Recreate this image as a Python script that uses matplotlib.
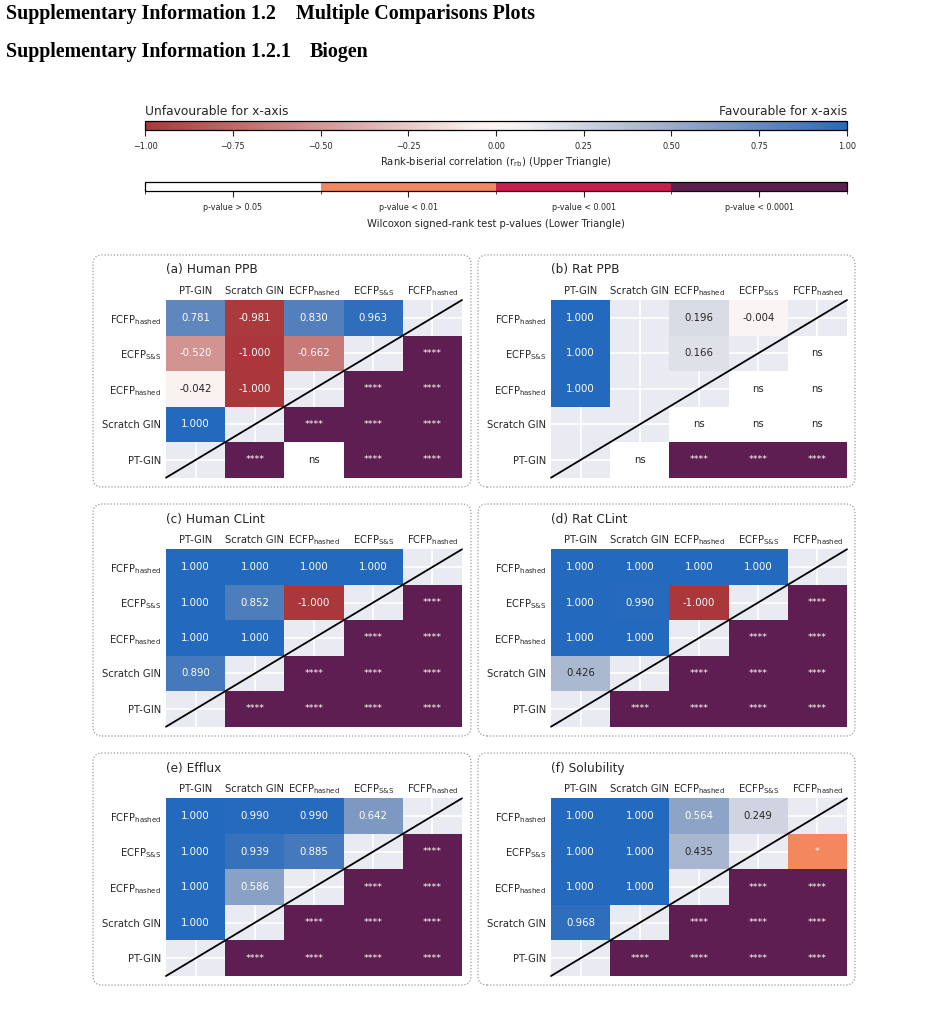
import numpy as np
import matplotlib
matplotlib.use("Agg")
import matplotlib.pyplot as plt
import seaborn as sns
from matplotlib.colors import ListedColormap, BoundaryNorm
from matplotlib.patches import FancyBboxPatch
import matplotlib as mpl

sns.set_style("darkgrid")
plt.rcParams['font.family'] = ['DejaVu Sans']

nan = np.nan
# ---------------- data ----------------
models = ["PT-GIN", "Scratch GIN", r"ECFP$_{\mathrm{hashed}}$",
          r"ECFP$_{\mathrm{S&S}}$", r"FCFP$_{\mathrm{hashed}}$"]
# pairs (column model a, row model b), a < b
pairs = [(0, 1), (0, 2), (0, 3), (0, 4), (1, 2), (1, 3), (1, 4), (2, 3), (2, 4), (3, 4)]

panel_titles = ["(a) Human PPB", "(b) Rat PPB", "(c) Human CLint",
                "(d) Rat CLint", "(e) Efflux", "(f) Solubility"]

human_ppb_r = [1.000, -0.042, -0.520, 0.781, -1.000, -1.000, -0.981, -0.662, 0.830, 0.963]
human_ppb_p = ["****", "ns", "****", "****", "****", "****", "****", "****", "****", "****"]
rat_ppb_r = [nan, 1.000, 1.000, 1.000, nan, nan, nan, 0.166, 0.196, -0.004]
rat_ppb_p = ["ns", "****", "****", "****", "ns", "ns", "ns", "ns", "ns", "ns"]
human_clint_r = [0.890, 1.000, 1.000, 1.000, 1.000, 0.852, 1.000, -1.000, 1.000, 1.000]
human_clint_p = ["****"] * 10
rat_clint_r = [0.426, 1.000, 1.000, 1.000, 1.000, 0.990, 1.000, -1.000, 1.000, 1.000]
rat_clint_p = ["****"] * 10
efflux_r = [1.000, 1.000, 1.000, 1.000, 0.586, 0.939, 0.990, 0.885, 0.990, 0.642]
efflux_p = ["****"] * 10
solubility_r = [0.968, 1.000, 1.000, 1.000, 1.000, 1.000, 1.000, 0.435, 0.564, 0.249]
solubility_p = ["****"] * 9 + ["*"]

panel_r = [human_ppb_r, rat_ppb_r, human_clint_r, rat_clint_r, efflux_r, solubility_r]
panel_p = [human_ppb_p, rat_ppb_p, human_clint_p, rat_clint_p, efflux_p, solubility_p]

p_levels = ["ns", "*", "***", "****"]
p_level_labels = ["p-value > 0.05", "p-value < 0.01", "p-value < 0.001", "p-value < 0.0001"]
p_colors = ["#FFFFFF", "#F3885E", "#CB1B4F", "#5F1E51"]
r_ticks = [-1.0, -0.75, -0.5, -0.25, 0.0, 0.25, 0.5, 0.75, 1.0]

# ---------------- figure ----------------
W, H = 948, 1015
fig = plt.figure(figsize=(W / 100, H / 100), dpi=100)
fig.patch.set_facecolor("white")

def px_axes(x0, y0, x1, y1):
    return fig.add_axes([x0 / W, 1 - y1 / H, (x1 - x0) / W, (y1 - y0) / H])

def ftxt(x, y, s, **kw):
    fig.text(x / W, 1 - y / H, s, **kw)

# header
HDR = dict(fontsize=14.4, fontweight="bold", family="Liberation Serif",
           va="center", ha="left", color="black")
ftxt(6, 14, "Supplementary Information 1.2", **HDR)
ftxt(296, 14, "Multiple Comparisons Plots", **HDR)
ftxt(6, 52.5, "Supplementary Information 1.2.1", **HDR)
ftxt(310, 52.5, "Biogen", **HDR)

TXT = "#262626"
r_cmap = sns.color_palette("vlag_r", as_cmap=True)
p_cmap = ListedColormap(p_colors)

# colorbar 1
cax1 = px_axes(145, 121, 847, 129.5)
cb1 = fig.colorbar(mpl.cm.ScalarMappable(norm=mpl.colors.Normalize(-1, 1), cmap=r_cmap),
                   cax=cax1, orientation="horizontal", ticks=r_ticks)
cb1.ax.set_xticklabels(["\u22121.00", "\u22120.75", "\u22120.50", "\u22120.25", "0.00",
                        "0.25", "0.50", "0.75", "1.00"])
cb1.outline.set_edgecolor("black"); cb1.outline.set_linewidth(0.9)
cax1.tick_params(axis="x", length=4.1, width=0.8, color=TXT, labelsize=5.9, pad=5,
                 labelcolor=TXT)
ftxt(145, 111.5, "Unfavourable for x-axis", fontsize=8.8, ha="left", va="center", color=TXT)
ftxt(847, 111.5, "Favourable for x-axis", fontsize=8.8, ha="right", va="center", color=TXT)
ftxt(496, 162.3, r"Rank-biserial correlation (r$_{\mathrm{rb}}$) (Upper Triangle)",
     fontsize=7.2, ha="center", va="center", color=TXT)

# colorbar 2
cax2 = px_axes(145, 181.5, 847, 190.7)
cb2 = fig.colorbar(mpl.cm.ScalarMappable(norm=BoundaryNorm([-0.5, 0.5, 1.5, 2.5, 3.5], 4),
                                         cmap=p_cmap),
                   cax=cax2, orientation="horizontal", ticks=[0, 1, 2, 3])
cb2.ax.set_xticklabels(p_level_labels)
cb2.outline.set_edgecolor("black"); cb2.outline.set_linewidth(0.9)
cax2.tick_params(axis="x", length=4.3, width=0.8, color=TXT, labelsize=5.8, pad=4.5,
                 labelcolor=TXT)
ftxt(496, 224, "Wilcoxon signed-rank test p-values (Lower Triangle)",
     fontsize=7.2, ha="center", va="center", color=TXT)

# panels
grid_x = [(166, 462), (551, 847)]
grid_y = [(300, 477.7), (549.3, 726.7), (798.3, 976)]
box_x = [(93, 471), (478, 855)]
box_y = [(255, 487), (504, 736), (753, 985)]

for k in range(6):
    row, col = divmod(k, 2)
    gx0, gx1 = grid_x[col]
    gy0, gy1 = grid_y[row]
    ax = px_axes(gx0, gy0, gx1, gy1)
    ax.set_facecolor("#EAEAF2")

    R = np.full((5, 5), np.nan)
    P = np.full((5, 5), np.nan)
    for (a, b), rv, pv in zip(pairs, panel_r[k], panel_p[k]):
        R[b, a] = rv
        P[a, b] = p_levels.index(pv)
    edges = np.arange(6)
    ax.pcolormesh(edges, edges, np.ma.masked_invalid(R), cmap=r_cmap, vmin=-1, vmax=1, zorder=2)
    ax.pcolormesh(edges, edges, np.ma.masked_invalid(P), cmap=p_cmap, vmin=-0.5, vmax=3.5, zorder=2)

    for (a, b), rv, pv in zip(pairs, panel_r[k], panel_p[k]):
        if not np.isnan(rv):
            c = "white" if abs(rv) >= 0.5 else TXT
            ax.text(a + 0.5, b + 0.5, f"{rv:.3f}", ha="center", va="center",
                    fontsize=7.3, color=c, zorder=4)
        if pv == "ns":
            ax.text(b + 0.5, a + 0.5, "ns", ha="center", va="center",
                    fontsize=7.3, color=TXT, zorder=4)
        else:
            ax.text(b + 0.5, a + 0.5, pv, ha="center", va="center",
                    fontsize=6.8, color="white", zorder=4)

    ax.plot([0, 5], [0, 5], color="black", lw=1.3, zorder=5, clip_on=False)
    ax.set_xlim(0, 5); ax.set_ylim(0, 5)
    ax.set_xticks(np.arange(5) + 0.5)
    ax.set_yticks(np.arange(5) + 0.5)
    ax.set_xticklabels(models)
    ax.set_yticklabels(models)
    ax.xaxis.tick_top()
    ax.tick_params(length=0, labelsize=7.2, labelcolor=TXT)
    ax.tick_params(axis="x", pad=4.5)
    ax.tick_params(axis="y", pad=3.5)
    for tl in ax.get_xticklabels():
        tl.set_va("baseline")
    ax.grid(True, color="white", lw=1.2)
    ax.set_axisbelow(True)
    for s in ax.spines.values():
        s.set_visible(False)
    ax.text(0, 1 + 30 / (gy1 - gy0), panel_titles[k], transform=ax.transAxes,
            ha="left", va="center", fontsize=8.7, color=TXT)

    bx0, bx1 = box_x[col]
    by0, by1 = box_y[row]
    box = FancyBboxPatch((bx0 / 100, (H - by1) / 100), (bx1 - bx0) / 100, (by1 - by0) / 100,
                         boxstyle="round,pad=0,rounding_size=0.09",
                         transform=fig.dpi_scale_trans, fill=False,
                         ec="#9a9a9a", lw=0.9, ls=(0, (1, 1.5)))
    fig.add_artist(box)

fig.savefig("out.png", dpi=100)
